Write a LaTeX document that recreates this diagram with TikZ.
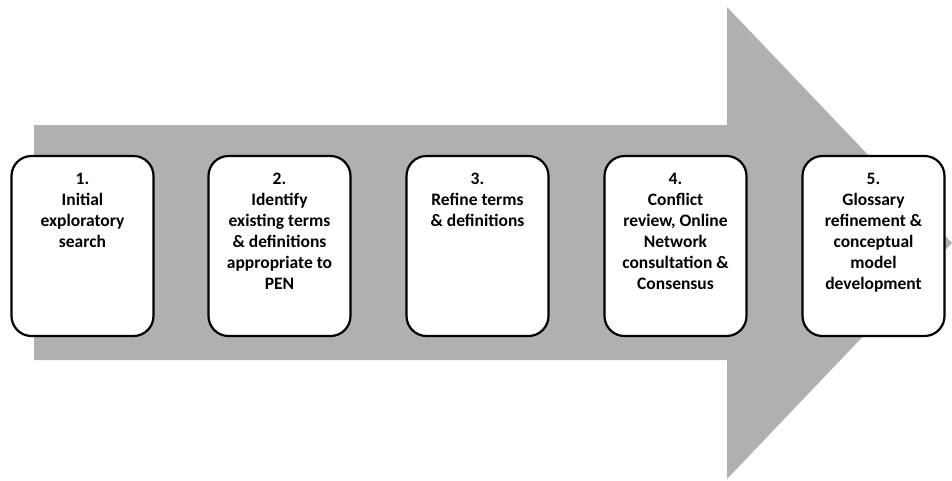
\documentclass[tikz,border=0pt]{standalone}
\usepackage{fontspec}
\setmainfont{Carlito}
\definecolor{arrowgray}{RGB}{176,176,176}
\begin{document}
\begin{tikzpicture}[x=1pt,y=-1pt,
  stepbox/.style={draw=black,line width=2.2pt,fill=white,rounded corners=20pt,
    minimum width=142pt,minimum height=180pt,inner sep=0pt},
  steptext/.style={anchor=north,align=center,font=\bfseries\fontsize{17.5}{21}\selectfont,
    inner sep=0pt}]
\useasboundingbox (0,0) rectangle (952,480);
\fill[arrowgray] (34,125) -- (727,125) -- (727,7) -- (952,243) -- (727,479) -- (727,360) -- (34,360) -- cycle;
\foreach \i/\x in {1/82.5,2/279.5,3/477.5,4/675.5,5/873.5}{
  \node[stepbox] (b\i) at (\x,246) {};
}
\node[steptext] (t1) at ([yshift=-18pt]b1.north) {1.\\Initial\\exploratory\\search};
\node[steptext] (t2) at ([yshift=-18pt]b2.north) {2.\\Identify\\existing terms\\\& definitions\\appropriate to\\PEN};
\node[steptext] (t3) at ([yshift=-18pt]b3.north) {3.\\Refine terms\\\& definitions};
\node[steptext] (t4) at ([yshift=-18pt]b4.north) {4.\\Conflict\\review, Online\\Network\\consultation \&\\Consensus};
\node[steptext] (t5) at ([yshift=-18pt]b5.north) {5.\\Glossary\\refinement \&\\conceptual\\model\\development};
\end{tikzpicture}
\end{document}
